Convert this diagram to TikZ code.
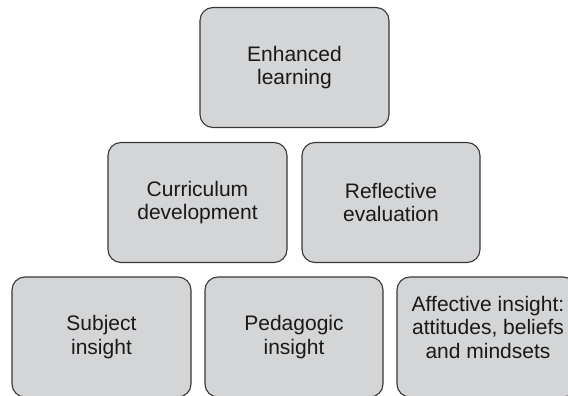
\documentclass[tikz,border=0pt]{standalone}
\usepackage{fontspec}
\setmainfont{Liberation Sans}
\definecolor{boxfill}{RGB}{212,213,215}
\definecolor{boxline}{RGB}{55,55,55}
\definecolor{txtcol}{RGB}{25,25,25}
\begin{document}
\begin{tikzpicture}[x=1pt,y=-1pt,
  box/.style={draw=boxline, fill=boxfill, line width=1.1pt, rounded corners=13pt,
    inner sep=0pt, minimum height=120pt, align=center, text=txtcol,
    font=\fontsize{21}{23.5}\selectfont},
  txt/.style={inner sep=0pt, align=center, text=txtcol, font=\fontsize{21}{23.5}\selectfont}]
\useasboundingbox (0,0) rectangle (568,396);
\clip (0,0) rectangle (568,396);
\node[box, minimum width=189pt] (top) at (294.5,67.5) {Enhanced\\learning};
\node[box, minimum width=179pt] (cur) at (197.5,202.5) {Curriculum\\development};
\node[box, minimum width=178pt] (ref) at (391,202.5) {Reflective\\evaluation};
\node[box, minimum width=179pt] (sub) at (101.5,337) {Subject\\insight};
\node[box, minimum width=178pt] (ped) at (294,337) {Pedagogic\\insight};
\node[box, minimum width=179pt] (aff) at (486.5,337) {};
\node[txt] (afftxt) at (488,327) {Affective insight:\\attitudes, beliefs\\and mindsets};
\end{tikzpicture}
\end{document}
